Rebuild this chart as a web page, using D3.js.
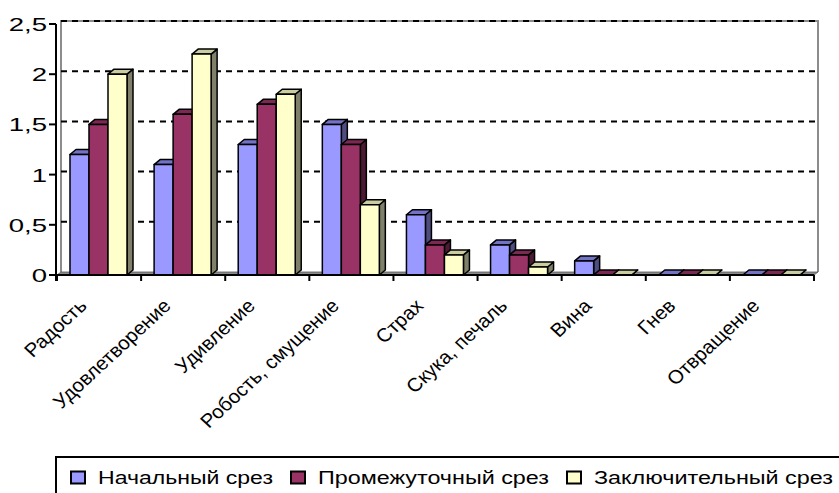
<!DOCTYPE html>
<html><head><meta charset="utf-8">
<script src="https://cdn.jsdelivr.net/npm/d3@7"></script>
<style>body{margin:0;background:#fff}svg{display:block}text{font-family:"Liberation Sans",Arial,sans-serif;fill:#000}</style>
</head><body>
<script>
const categories = ["Радость","Удовлетворение","Удивление","Робость, смущение","Страх","Скука, печаль","Вина","Гнев","Отвращение"];
const seriesNames = ["Начальный срез","Промежуточный срез","Заключительный срез"];
const initialCut = [1.2,1.1,1.3,1.5,0.6,0.3,0.14,0,0];
const middleCut = [1.5,1.6,1.7,1.3,0.3,0.2,0,0,0];
const finalCut = [2.0,2.2,1.8,0.7,0.2,0.08,0,0,0];
const yTicks = [0,0.5,1,1.5,2,2.5];
const yTickLabels = ["0","0,5","1","1,5","2","2,5"];

const seriesValues = [initialCut, middleCut, finalCut];
const front = ["#9999FF","#993366","#FFFFCC"];
const top_ = ["#7373C6","#7A2952","#CCCCA3"];
const side = ["#4D4D80","#4D1A33","#80806A"];

const W=839,H=493;
const svg=d3.select("body").append("svg").attr("width",W).attr("height",H);
const y=d3.scaleLinear().domain([0,2.5]).range([275,24]);
const x=d3.scaleBand().domain(categories).range([57,814]);
const xs=d3.scaleBand().domain(seriesNames).range([13,70]);
const wdx=4, wdy=-3, bdx=6, bdy=-5;

// back wall
svg.append("path").attr("d",`M${57+wdx},${275+wdy} V${y(2.5)+wdy} H${814+wdx} V${275+wdy}`)
  .attr("fill","none").attr("stroke","#8c8c8c").attr("stroke-width",2);
// gridlines
svg.selectAll(".grid").data(yTicks.filter(t=>t>0)).join("line")
  .attr("x1",57+wdx).attr("x2",814+wdx).attr("y1",d=>y(d)+wdy).attr("y2",d=>y(d)+wdy)
  .attr("stroke","#000").attr("stroke-width",2).attr("stroke-dasharray","6,5");
// floor
svg.append("path").attr("d",`M57,275 L${57+wdx},${275+wdy} L${814+wdx},${275+wdy} L814,275 Z`)
  .attr("fill","#8c8c8c").attr("stroke","#555").attr("stroke-width",0.8);

// bars
const g=svg.append("g").attr("stroke","#000").attr("stroke-width",1.5).attr("stroke-linejoin","round");
categories.forEach((c,i)=>{
  seriesNames.forEach((s,j)=>{
    const v=seriesValues[j][i];
    const x0=x(c)+xs(s), w=xs.bandwidth(), yt=y(v), yb=y(0);
    g.append("path").attr("fill",side[j])
      .attr("d",`M${x0+w},${yt} L${x0+w+bdx},${yt+bdy} L${x0+w+bdx},${yb+bdy} L${x0+w},${yb} Z`);
    g.append("path").attr("fill",top_[j])
      .attr("d",`M${x0},${yt} L${x0+bdx},${yt+bdy} L${x0+w+bdx},${yt+bdy} L${x0+w},${yt} Z`);
    if(v>0) g.append("rect").attr("fill",front[j]).attr("x",x0).attr("y",yt).attr("width",w).attr("height",yb-yt);
  });
});

// axes
svg.append("line").attr("x1",56).attr("x2",56).attr("y1",y(2.5)).attr("y2",281).attr("stroke","#000").attr("stroke-width",2);
svg.append("line").attr("x1",56).attr("x2",814).attr("y1",275).attr("y2",275).attr("stroke","#000").attr("stroke-width",2);
svg.selectAll(".yt").data(yTicks).join("line").attr("x1",49).attr("x2",56).attr("y1",d=>y(d)).attr("y2",d=>y(d)).attr("stroke","#000").attr("stroke-width",2);
const bounds=categories.map(c=>x(c)).concat([814]);
svg.selectAll(".xt").data(bounds).join("line").attr("x1",d=>d).attr("x2",d=>d).attr("y1",275).attr("y2",281).attr("stroke","#000").attr("stroke-width",2);

svg.selectAll(".yl").data(yTicks).join("text")
  .attr("transform",d=>`translate(47,${y(d)+7}) scale(1.45,1)`)
  .attr("text-anchor","end").style("font-size","19px").text((d,i)=>yTickLabels[i]);

svg.selectAll(".xl").data(categories).join("text")
  .attr("transform",d=>`translate(${x(d)+x.bandwidth()/2-11},307) scale(1.08,1) rotate(-45)`)
  .attr("text-anchor","end").style("font-size","19px").text(d=>d);

// legend
const lg=svg.append("g");
lg.append("path").attr("d","M56,494 V457 H840").attr("fill","none").attr("stroke","#000").attr("stroke-width",2);
const legendTextWidths=[175,231,239];
let lx=71;
seriesNames.forEach((s,j)=>{
  lg.append("rect").attr("x",lx).attr("y",471.5).attr("width",14).attr("height",12)
    .attr("fill",front[j]).attr("stroke","#000").attr("stroke-width",2);
  lg.append("text").attr("x",lx+27).attr("y",483.5)
    .attr("textLength",legendTextWidths[j]).attr("lengthAdjust","spacingAndGlyphs")
    .style("font-size","17.5px").text(s);
  lx=lx+27+legendTextWidths[j]+18;
});
</script>
</body></html>
